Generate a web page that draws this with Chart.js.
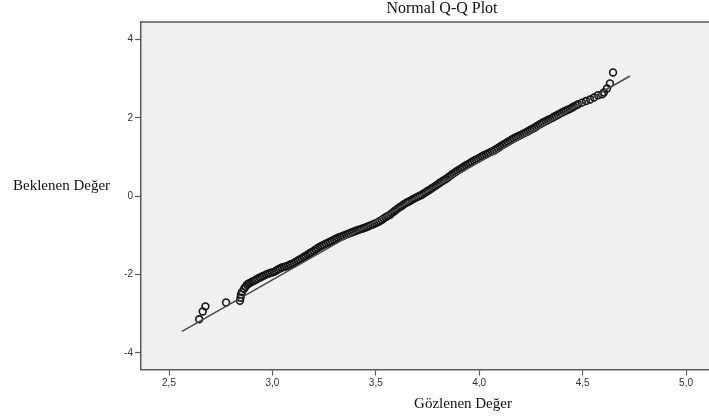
<!DOCTYPE html>
<html>
<head>
<meta charset="utf-8">
<script src="https://cdn.jsdelivr.net/npm/chart.js@4"></script>
<style>
  html, body { margin: 0; padding: 0; background: #fff; overflow: hidden; }
  canvas { display: block; }
</style>
</head>
<body>
<canvas id="qqChart" width="709" height="420"></canvas>
<script>
    // gözlenen değerler (x) ve beklenen normal değerler (y)
    const obsX = [2.646, 2.663, 2.676, 2.776, 2.843, 2.846, 2.848, 2.853, 2.863, 2.877,
        2.892, 2.911, 2.930, 2.950, 2.969, 2.988, 3.008, 3.027, 3.046, 3.066,
        3.085, 3.104, 3.124, 3.143, 3.162, 3.182, 3.201, 3.220, 3.240, 3.259,
        3.279, 3.298, 3.317, 3.337, 3.356, 3.375, 3.395, 3.414, 3.433, 3.453,
        3.472, 3.491, 3.511, 3.530, 3.549, 3.569, 3.588, 3.607, 3.627, 3.646,
        3.665, 3.685, 3.704, 3.723, 3.743, 3.762, 3.781, 3.801, 3.820, 3.839,
        3.859, 3.878, 3.897, 3.917, 3.936, 3.956, 3.975, 3.994, 4.014, 4.033,
        4.052, 4.072, 4.091, 4.110, 4.130, 4.149, 4.168, 4.188, 4.207, 4.226,
        4.246, 4.265, 4.284, 4.304, 4.323, 4.342, 4.362, 4.381, 4.400, 4.420,
        4.439, 4.458, 4.478, 4.497, 4.516, 4.536, 4.555, 4.574, 4.594, 4.603,
        4.618, 4.632, 4.647];
    const obsY = [-3.14, -2.94, -2.81, -2.71, -2.67, -2.59, -2.51, -2.44, -2.36, -2.26,
        -2.21, -2.16, -2.10, -2.05, -2.00, -1.96, -1.93, -1.87, -1.82, -1.79,
        -1.75, -1.70, -1.64, -1.58, -1.52, -1.45, -1.39, -1.32, -1.26, -1.21,
        -1.16, -1.11, -1.06, -1.02, -0.98, -0.94, -0.90, -0.86, -0.83, -0.79,
        -0.75, -0.71, -0.66, -0.60, -0.53, -0.47, -0.39, -0.31, -0.24, -0.17,
        -0.12, -0.06, -0.01, 0.04, 0.11, 0.17, 0.24, 0.31, 0.38, 0.44,
        0.52, 0.59, 0.66, 0.72, 0.79, 0.85, 0.91, 0.96, 1.02, 1.07,
        1.12, 1.17, 1.23, 1.30, 1.36, 1.42, 1.48, 1.53, 1.58, 1.63,
        1.69, 1.74, 1.81, 1.87, 1.92, 1.97, 2.03, 2.08, 2.14, 2.19,
        2.23, 2.29, 2.35, 2.39, 2.43, 2.47, 2.52, 2.58, 2.60, 2.65,
        2.75, 2.88, 3.16];

    // yoğun bantta ikinci okuma (noktalar üst üste biniyor)
    const bandX = [2.870, 2.884, 2.901, 2.920, 2.940, 2.959, 2.978, 2.998, 3.017, 3.036,
        3.056, 3.075, 3.094, 3.114, 3.133, 3.152, 3.172, 3.191, 3.210, 3.230,
        3.249, 3.269, 3.288, 3.307, 3.327, 3.346, 3.365, 3.385, 3.404, 3.423,
        3.443, 3.462, 3.481, 3.501, 3.520, 3.539, 3.559, 3.578, 3.597, 3.617,
        3.636, 3.655, 3.675, 3.694, 3.713, 3.733, 3.752, 3.771, 3.791, 3.810,
        3.829, 3.849, 3.868, 3.887, 3.907, 3.926, 3.946, 3.965, 3.984, 4.004,
        4.023, 4.042, 4.062, 4.081, 4.100, 4.120, 4.139, 4.158, 4.178, 4.197,
        4.216, 4.236, 4.255, 4.274, 4.294, 4.313, 4.332, 4.352, 4.371, 4.390,
        4.410, 4.429, 4.448, 4.468];
    const bandY = [-2.31, -2.235, -2.18, -2.13, -2.075, -2.025, -1.98, -1.945, -1.90, -1.845,
        -1.805, -1.77, -1.725, -1.67, -1.61, -1.55, -1.485, -1.42, -1.355, -1.29,
        -1.235, -1.185, -1.135, -1.085, -1.04, -1.00, -0.96, -0.92, -0.88, -0.845,
        -0.81, -0.77, -0.73, -0.685, -0.63, -0.565, -0.50, -0.43, -0.35, -0.275,
        -0.205, -0.145, -0.09, -0.035, 0.015, 0.075, 0.14, 0.205, 0.275, 0.345,
        0.41, 0.48, 0.555, 0.625, 0.69, 0.755, 0.82, 0.88, 0.935, 0.99,
        1.045, 1.095, 1.145, 1.20, 1.265, 1.33, 1.39, 1.45, 1.505, 1.555,
        1.605, 1.66, 1.715, 1.775, 1.84, 1.895, 1.945, 2.00, 2.055, 2.11,
        2.165, 2.21, 2.26, 2.32];

    // referans doğrusu uç noktaları
    const refX = [2.563, 4.729];
    const refY = [-3.45, 3.07];

    const xTicks = [2.5, 3.0, 3.5, 4.0, 4.5, 5.0];
    const yTicks = [-4, -2, 0, 2, 4];

    const chartTitle = 'Normal Q-Q Plot';
    const xTitle = 'Gözlenen Değer';
    const yTitle = 'Beklenen Değer';

    /** Fondo gris del área y textos */
    const decor = {
        id: 'decor',
        beforeDraw(chart) {
            const { ctx, chartArea: a } = chart;
            ctx.save();
            ctx.fillStyle = '#f0f0f0';
            ctx.fillRect(a.left, a.top, a.right - a.left, a.bottom - a.top);
            ctx.strokeStyle = '#5a5a5a';
            ctx.lineWidth = 1.5;
            ctx.beginPath();
            ctx.moveTo(a.left, a.top);
            ctx.lineTo(a.right, a.top);
            ctx.stroke();
            ctx.restore();
        },
        afterDraw(chart) {
            const { ctx } = chart;
            ctx.save();
            ctx.fillStyle = '#111';
            ctx.textBaseline = 'middle';
            ctx.font = '16px "Liberation Serif", "Times New Roman", serif';
            ctx.textAlign = 'center';
            ctx.fillText(chartTitle, 442, 9);
            ctx.font = '15px "Liberation Serif", "Times New Roman", serif';
            ctx.fillText(xTitle, 463, 404);
            ctx.textAlign = 'left';
            ctx.fillText(yTitle, 13, 186);
            ctx.restore();
        }
    };

    const axisColor = '#5a5a5a';
    const tickFont = { family: '"Liberation Sans", Arial, sans-serif', size: 10 };

    const points = obsX.map((x, i) => ({ x, y: obsY[i] }))
        .concat(bandX.map((x, i) => ({ x, y: bandY[i] })));

    new Chart(document.getElementById('qqChart'), {
        type: 'scatter',
        data: {
            datasets: [{
                label: 'Gözlenen',
                data: points,
                pointStyle: 'circle',
                pointRadius: 3.4,
                pointBorderWidth: 1.6,
                borderColor: '#151515',
                backgroundColor: 'rgba(0,0,0,0)',
                order: 2
            }, {
                label: 'Referans',
                data: refX.map((x, i) => ({ x, y: refY[i] })),
                showLine: true,
                pointRadius: 0,
                borderColor: '#4a4a4a',
                borderWidth: 1.5,
                order: 1
            }]
        },
        options: {
            responsive: false,
            animation: false,
            layout: { autoPadding: false, padding: { top: 22, left: 0, right: 0, bottom: 0 } },
            plugins: {
                legend: { display: false },
                tooltip: { enabled: false }
            },
            scales: {
                x: {
                    type: 'linear',
                    min: 2.3646,
                    max: 5.111,
                    afterBuildTicks: s => { s.ticks = xTicks.map(v => ({ value: v })); },
                    afterFit: s => { s.height = 50.5; s.paddingLeft = 0; s.paddingRight = 0; },
                    ticks: {
                        color: '#333',
                        font: tickFont,
                        padding: 2,
                        maxRotation: 0,
                        callback: v => v.toFixed(1).replace('.', ',')
                    },
                    grid: { drawOnChartArea: false, tickLength: 6, color: axisColor, tickWidth: 1.2 },
                    border: { color: axisColor, width: 1.5 }
                },
                y: {
                    type: 'linear',
                    min: -4.422,
                    max: 4.448,
                    afterBuildTicks: s => { s.ticks = yTicks.map(v => ({ value: v })); },
                    afterFit: s => { s.width = 141; s.paddingTop = 0; s.paddingBottom = 0; },
                    ticks: {
                        color: '#333',
                        font: tickFont,
                        padding: 2,
                        callback: v => String(v)
                    },
                    grid: { drawOnChartArea: false, tickLength: 6, color: axisColor, tickWidth: 1.2 },
                    border: { color: axisColor, width: 1.5 }
                }
            }
        },
        plugins: [decor]
    });
</script>
</body>
</html>
